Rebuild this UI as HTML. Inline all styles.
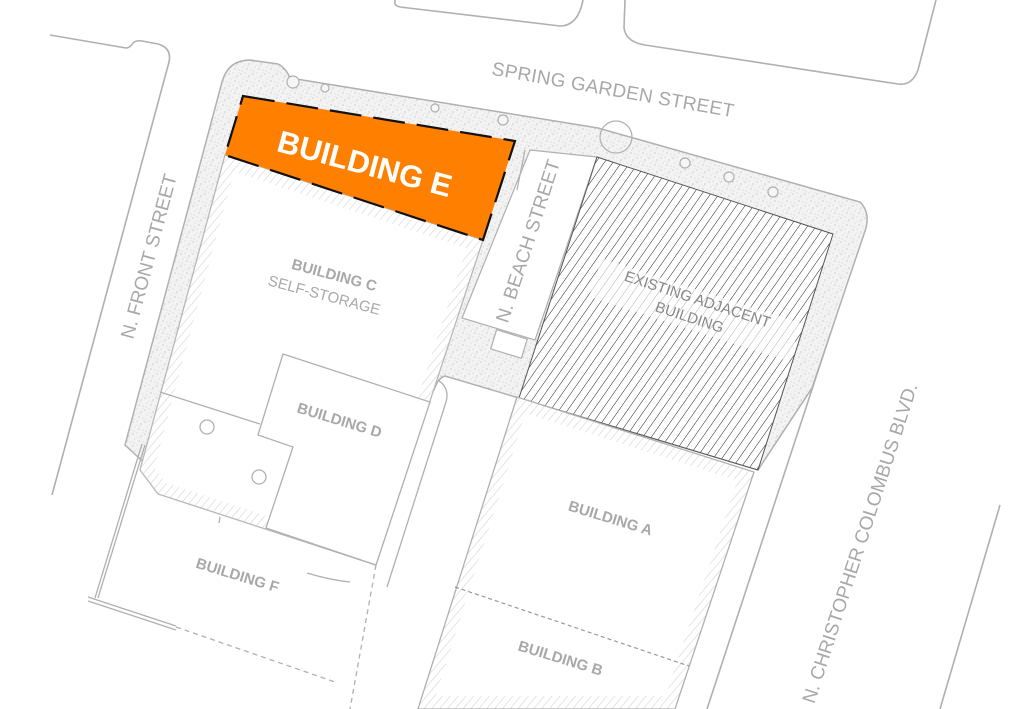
<!DOCTYPE html>
<html><head><meta charset="utf-8"><style>
html,body{margin:0;padding:0;background:#fff;}
svg{display:block;}
text{font-family:"Liberation Sans",sans-serif;fill:#a8a8a8;}
</style></head><body>
<svg width="1024" height="709" viewBox="0 0 1024 709" xmlns="http://www.w3.org/2000/svg">
<defs>
<pattern id="stip" width="12" height="12" patternUnits="userSpaceOnUse">
<rect width="12" height="12" fill="#f3f3f3"/>
<circle cx="1" cy="2" r="0.6" fill="#b5b5b5"/><circle cx="5" cy="1" r="0.5" fill="#c0c0c0"/>
<circle cx="9" cy="4" r="0.6" fill="#b0b0b0"/><circle cx="3" cy="7" r="0.5" fill="#bdbdbd"/>
<circle cx="7" cy="9" r="0.6" fill="#b5b5b5"/><circle cx="11" cy="10" r="0.5" fill="#c0c0c0"/>
<circle cx="2" cy="11" r="0.5" fill="#b8b8b8"/><circle cx="8" cy="6" r="0.5" fill="#c5c5c5"/>
<circle cx="11" cy="1" r="0.4" fill="#c5c5c5"/><circle cx="5" cy="5" r="0.4" fill="#c8c8c8"/>
</pattern>
<pattern id="hatch" width="7" height="7" patternUnits="userSpaceOnUse" patternTransform="rotate(35)">
<line x1="0" y1="0" x2="0" y2="7" stroke="#222" stroke-width="1"/>
</pattern>
<pattern id="gh" width="6" height="6" patternUnits="userSpaceOnUse" patternTransform="rotate(40)">
<line x1="0" y1="0" x2="0" y2="6" stroke="#d4d4d4" stroke-width="1.2"/>
</pattern>
<clipPath id="cC"><polygon points="225,155 483,240 376,565 158,494 140,470"/></clipPath>
<clipPath id="cA"><polygon points="517,397 754,472 675,709 418,709"/></clipPath>
</defs>

<g fill="none" stroke="#b0b0b0" stroke-width="1.6">
<path d="M50,35 L126,48 Q130,48 133,43 Q136,40 142,41 L158,44 Q172,48 169,62 L52,495"/>
<path d="M395,0 L395,4 Q396,6 400,7 L560,26 Q578,26 583,0"/>
<path d="M625,0 L624,28 Q626,42 645,45 L898,84 Q912,86 918,70 L936,0"/>
<path d="M1000,505 L940,709"/>
<path d="M866,225 L707,709"/>
</g>

<path d="M222,82 Q228,60 250,60 L278,64 Q286,68 290,78 L598,128 L860,202 Q870,212 866,228 L812,388 L758,470 L519,398 L445,376 Q438,378 434,390 L150,468 L125,445 Z" fill="url(#stip)" stroke="#b0b0b0" stroke-width="1.5"/>
<g fill="#f6f6f6" stroke="#b0b0b0" stroke-width="1.2">
<circle cx="293" cy="82" r="6"/><circle cx="325" cy="88" r="4"/><circle cx="435" cy="108" r="4"/><circle cx="503" cy="120" r="5"/>
<circle cx="616" cy="137" r="16" fill="none"/><circle cx="685" cy="163" r="5"/><circle cx="729" cy="177" r="5"/><circle cx="773" cy="192" r="5"/>
</g>

<polygon points="225,155 483,240 376,565 158,494 140,470" fill="#fff"/>
<polygon points="225,155 483,240 376,565 158,494 140,470" fill="none" stroke="url(#gh)" stroke-width="26" clip-path="url(#cC)"/>
<polygon points="225,155 483,240 376,565 158,494 140,470" fill="none" stroke="#b8b8b8" stroke-width="1.3"/>
<polygon points="283,354 430,402 376,565 266,528 293,447 258,435" fill="#fff" stroke="#b0b0b0" stroke-width="1.3"/>
<line x1="160" y1="392" x2="260" y2="424" stroke="#b0b0b0" stroke-width="1.3"/>
<circle cx="207" cy="427" r="7" fill="none" stroke="#b0b0b0" stroke-width="1.3"/>
<circle cx="259" cy="477" r="7" fill="none" stroke="#b0b0b0" stroke-width="1.3"/>

<g stroke="#b0b0b0" fill="none" stroke-width="1.3">
<line x1="142" y1="444" x2="95" y2="598"/><line x1="145" y1="445" x2="98" y2="598"/>
<line x1="88" y1="597" x2="176" y2="626"/><line x1="88" y1="601" x2="176" y2="630"/>
<line x1="176" y1="627" x2="335" y2="682" stroke-dasharray="5 4"/>
<line x1="376" y1="565" x2="350" y2="709" stroke-dasharray="5 4"/>
<path d="M307,573 Q330,580 350,582"/>
<path d="M438,380 Q450,388 446,402 L387,587"/>
<line x1="220" y1="517" x2="219" y2="523"/>
</g>

<polygon points="530,150 597,157 535,340 462,318" fill="#fff" stroke="#b0b0b0" stroke-width="1.2"/>
<line x1="525" y1="150" x2="517" y2="190" stroke="#b0b0b0" stroke-width="1.2"/>
<rect x="493" y="334" width="32" height="20" fill="#fff" stroke="#b0b0b0" stroke-width="1.2" transform="rotate(17 509 344)"/>

<polygon points="597,157 833,234 758,470 519,398" fill="#fff"/>
<polygon points="597,157 833,234 758,470 519,398" fill="url(#hatch)" stroke="#555" stroke-width="1"/>
<rect x="590" y="290" width="210" height="40" fill="#fff" opacity="0.65" transform="rotate(18 695 310)"/>

<polygon points="517,397 754,472 675,709 418,709" fill="#fff"/>
<polygon points="517,397 754,472 675,709 418,709" fill="none" stroke="url(#gh)" stroke-width="26" clip-path="url(#cA)"/>
<polygon points="517,397 754,472 675,709 418,709" fill="none" stroke="#b0b0b0" stroke-width="1.3"/>
<line x1="455" y1="587" x2="689" y2="666" stroke="#999" stroke-width="1.2" stroke-dasharray="4 3"/>

<polygon points="243,96 515,141 483,240 225,155" fill="#ff7f00" stroke="#111" stroke-width="2.2" stroke-dasharray="32 12"/>
<text x="0" y="0" font-size="31" font-weight="bold" style="fill:#fff" text-anchor="middle" transform="translate(362,174) rotate(15)">BUILDING E</text>

<text font-size="19" text-anchor="middle" transform="translate(612,96) rotate(10)" letter-spacing="0.3">SPRING GARDEN STREET</text>
<text font-size="19" text-anchor="middle" transform="translate(155,258) rotate(-75)">N. FRONT STREET</text>
<text font-size="19" text-anchor="middle" transform="translate(534,243) rotate(-72)">N. BEACH STREET</text>
<text font-size="19" text-anchor="middle" transform="translate(866,545) rotate(-72)">N. CHRISTOPHER COLOMBUS BLVD.</text>
<text font-size="15" font-weight="bold" text-anchor="middle" transform="translate(333,280) rotate(15)">BUILDING C</text>
<text font-size="15" text-anchor="middle" transform="translate(323,300) rotate(15)">SELF-STORAGE</text>
<text font-size="15" text-anchor="middle" transform="translate(696,304) rotate(18)" style="fill:#888">EXISTING ADJACENT</text>
<text font-size="15" text-anchor="middle" transform="translate(688,322) rotate(18)" style="fill:#888">BUILDING</text>
<text font-size="15" font-weight="bold" text-anchor="middle" transform="translate(338,425) rotate(17)">BUILDING D</text>
<text font-size="15" font-weight="bold" text-anchor="middle" transform="translate(236,580) rotate(17)">BUILDING F</text>
<text font-size="15" font-weight="bold" text-anchor="middle" transform="translate(609,523) rotate(17)">BUILDING A</text>
<text font-size="15" font-weight="bold" text-anchor="middle" transform="translate(559,663) rotate(17)">BUILDING B</text>
</svg>
</body></html>
